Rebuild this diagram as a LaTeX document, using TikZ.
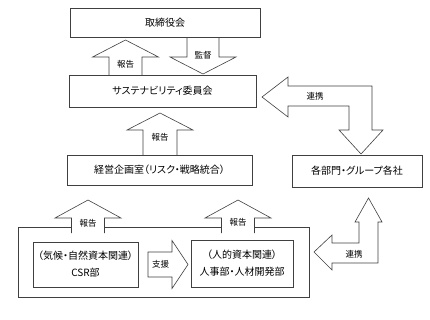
\documentclass[tikz,border=0pt]{standalone}
\usepackage{fontspec}
\setmainfont{Noto Sans CJK JP}[RawFeature=+palt]
\usetikzlibrary{calc}

\tikzset{
  box/.style={draw=black!75, fill=white, line width=0.6pt, inner sep=0pt, align=center, font=\fontsize{10}{17}\selectfont},
  blk/.style={draw=black!75, fill=white, line width=0.6pt, line join=miter},
  lbl/.style={inner sep=0pt, font=\fontsize{8.5}{10}\selectfont},
}

\begin{document}
\begin{tikzpicture}[x=1pt,y=-1pt]
\useasboundingbox (0,0) rectangle (430,319);

% outer frame of the two departments
\node[box, name=dept_frame, minimum width=291, minimum height=70] at (163.5,262) {};

% base points of the block arrows
\coordinate (rep_1) at (125.5,75);
\coordinate (sup_1) at (203,38);
\coordinate (rep_2) at (160,155);
\coordinate (rep_3) at (88,233);
\coordinate (rep_4) at (238,233);
\coordinate (aid_1) at (148,264.5);

\filldraw[blk] (rep_1) ++(-16.5,0) -- ++(0,-18) -- ++(-16.5,0) -- ++(33,-17) -- ++(33,17) -- ++(-16.5,0) -- ++(0,18);
\filldraw[blk] (sup_1) ++(-16,0) -- ++(0,19) -- ++(-17,0) -- ++(33,17) -- ++(33,-17) -- ++(-17,0) -- ++(0,-19);
\filldraw[blk] (rep_2) ++(-17,0) -- ++(0,-25) -- ++(-16,0) -- ++(33,-17) -- ++(33,17) -- ++(-16,0) -- ++(0,25);
\filldraw[blk] (rep_3) ++(-16.5,0) -- ++(0,-15) -- ++(-16.5,0) -- ++(33,-18) -- ++(33,18) -- ++(-16.5,0) -- ++(0,15);
\filldraw[blk] (rep_4) ++(-16.5,0) -- ++(0,-15) -- ++(-16.5,0) -- ++(33,-18) -- ++(33,18) -- ++(-16.5,0) -- ++(0,15);
\filldraw[blk] (aid_1) ++(0,-12.5) -- ++(24,0) -- ++(0,-11.5) -- ++(16,24) -- ++(-16,24) -- ++(0,-11.5) -- ++(-24,0) -- cycle;

% L-shaped links
\filldraw[blk] (262,97) -- (288,77) -- (288,86) -- (372,86) -- (372,130) -- (383,130) -- (361,154)
  -- (339,130) -- (349,130) -- (349,106) -- (288,106) -- (288,117) -- cycle;
\filldraw[blk] (314,252) -- (332,235) -- (332,243) -- (359,243) -- (359,222) -- (355,222) -- (368.5,198)
  -- (382,222) -- (378,222) -- (378,263) -- (332,263) -- (332,270) -- cycle;

% boxes
\node[box, name=board, minimum width=190, minimum height=29] at (165,22.5) {取締役会};
\node[box, name=committee, minimum width=187, minimum height=32] at (162.5,91) {サステナビリティ委員会};
\node[box, name=planning, minimum width=185, minimum height=30] at (159.5,170) {経営企画室（リスク・戦略統合）};
\node[box, name=groups, minimum width=130, minimum height=32] at (357,171) {各部門・グループ各社};
\node[box, name=csr, minimum width=105, minimum height=45] at (85.5,264.5) {（気候・自然資本関連）\\CSR部};
\node[box, name=hr, minimum width=102, minimum height=47] at (242,263.5) {（人的資本関連）\\人事部・人材開発部};

% arrow labels
\node[lbl, name=rep_1_text] at (125.5,64) {報告};
\node[lbl, name=sup_1_text] at (203,55) {監督};
\node[lbl, name=rep_2_text] at (160,137) {報告};
\node[lbl, name=rep_3_text] at (88,223) {報告};
\node[lbl, name=rep_4_text] at (238,222) {報告};
\node[lbl, name=aid_1_text] at (160.5,264.5) {支援};
\node[lbl, name=link_1_text] at (315,96) {連携};
\node[lbl, name=link_2_text] at (354,254) {連携};
\end{tikzpicture}
\end{document}
